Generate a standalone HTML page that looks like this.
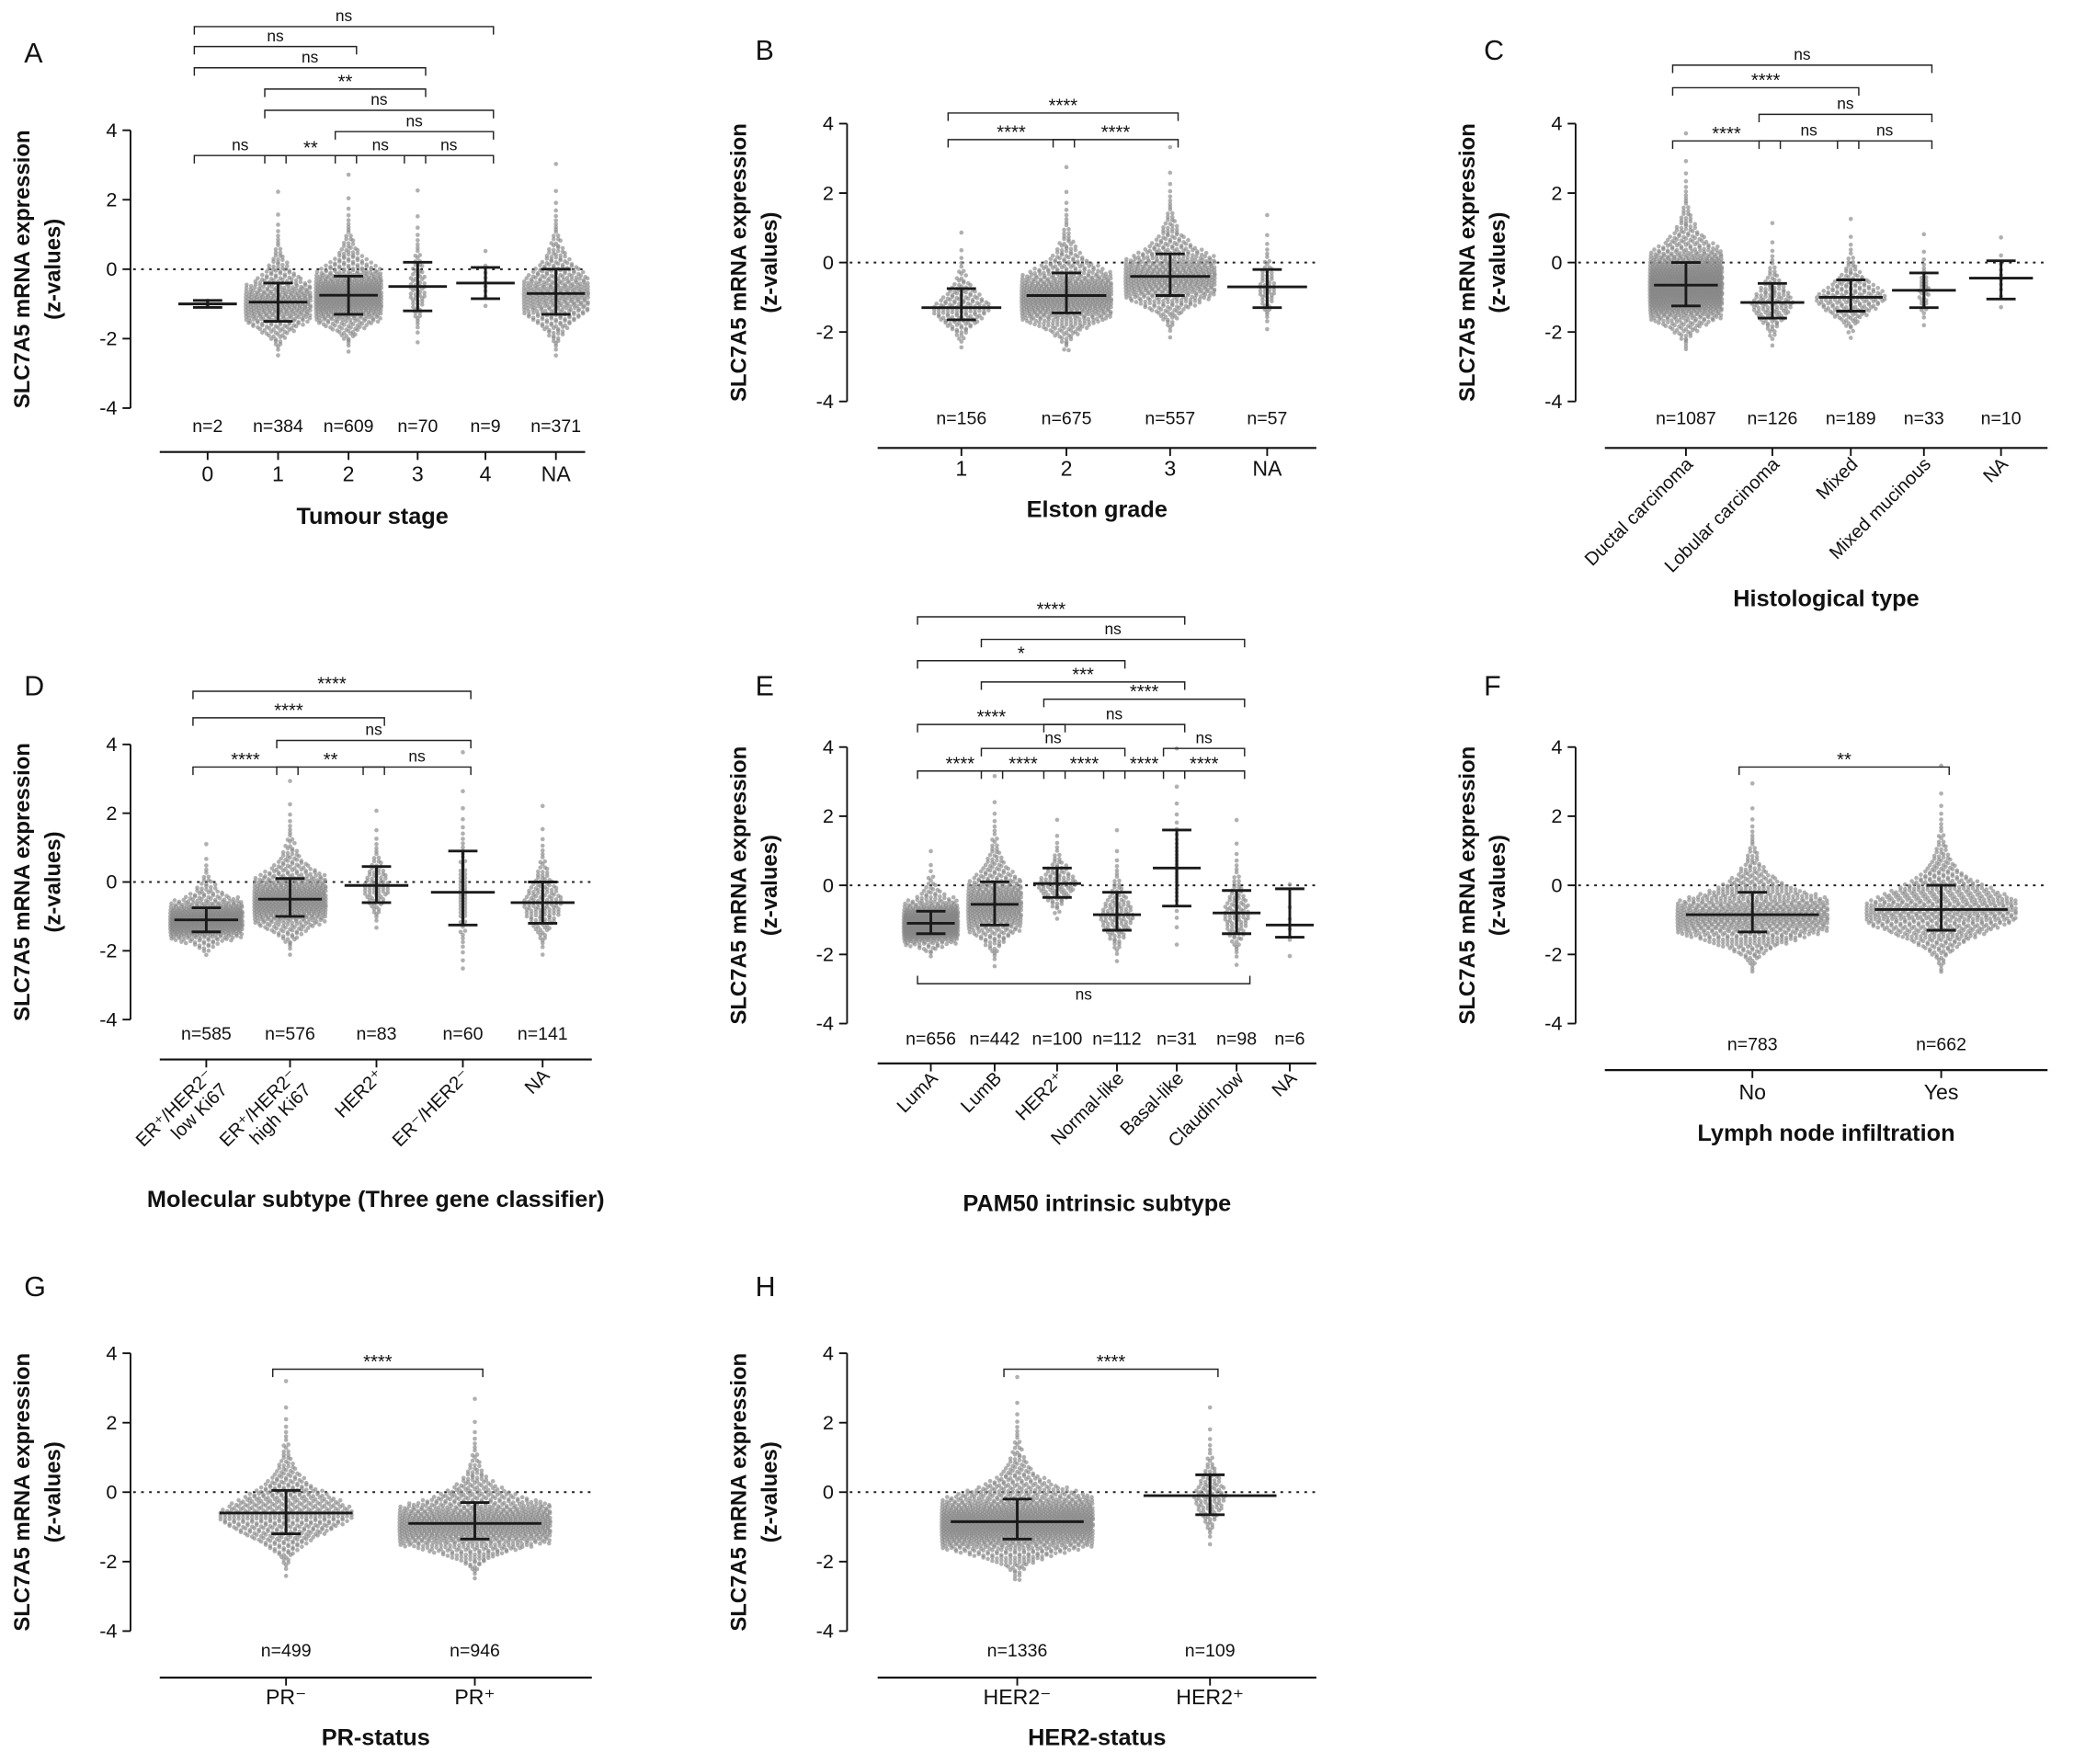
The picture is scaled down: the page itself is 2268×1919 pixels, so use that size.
<!DOCTYPE html>
<html><head><meta charset="utf-8"><style>
html,body{margin:0;padding:0;background:#fff}
svg{display:block}
text{font-family:"Liberation Sans",Arial,sans-serif;fill:#111}
</style></head><body>
<svg id="fig" width="2268" height="1919" viewBox="0 0 1568 1327" xmlns="http://www.w3.org/2000/svg"></svg>
<script>
// ---- data ----
const A_cats=["0","1","2","3","4","NA"];
const A_n=[2,384,609,70,9,371];
const A_med=[-1,-0.95,-0.75,-0.5,-0.4,-0.7];
const A_lo=[-1.1,-1.5,-1.3,-1.2,-0.85,-1.3];
const A_hi=[-0.9,-0.4,-0.2,0.2,0.05,0.0];
const A_sig=[[0,4,"ns"],[0,2,"ns"],[0,3,"ns"],[1,3,"**"],[1,4,"ns"],[2,4,"ns"],[0,1,"ns"],[1,2,"**"],[2,3,"ns"],[3,4,"ns"]];

const B_cats=["1","2","3","NA"];
const B_n=[156,675,557,57];
const B_med=[-1.3,-0.95,-0.4,-0.7];
const B_lo=[-1.65,-1.45,-0.95,-1.3];
const B_hi=[-0.75,-0.3,0.25,-0.2];
const B_sig=[[0,2,"****"],[0,1,"****"],[1,2,"****"]];

const C_cats=["Ductal carcinoma","Lobular carcinoma","Mixed","Mixed mucinous","NA"];
const C_n=[1087,126,189,33,10];
const C_med=[-0.65,-1.15,-1.0,-0.8,-0.45];
const C_lo=[-1.25,-1.6,-1.4,-1.3,-1.05];
const C_hi=[0.0,-0.6,-0.5,-0.3,0.05];
const C_sig=[[0,3,"ns"],[0,2,"****"],[1,3,"ns"],[0,1,"****"],[1,2,"ns"],[2,3,"ns"]];

const D_cats=[["ER\u207A/HER2\u207B","low Ki67"],["ER\u207A/HER2\u207B","high Ki67"],["HER2\u207A"],["ER\u207B/HER2\u207B"],["NA"]];
const D_n=[585,576,83,60,141];
const D_med=[-1.1,-0.5,-0.1,-0.3,-0.6];
const D_lo=[-1.45,-1.0,-0.6,-1.25,-1.2];
const D_hi=[-0.75,0.1,0.45,0.9,0.0];
const D_sig=[[0,3,"****"],[0,2,"****"],[1,3,"ns"],[0,1,"****"],[1,2,"**"],[2,3,"ns"]];

const E_cats=["LumA","LumB","HER2\u207A","Normal-like","Basal-like","Claudin-low","NA"];
const E_n=[656,442,100,112,31,98,6];
const E_med=[-1.1,-0.55,0.05,-0.85,0.5,-0.8,-1.15];
const E_lo=[-1.4,-1.15,-0.35,-1.3,-0.6,-1.4,-1.5];
const E_hi=[-0.75,0.1,0.5,-0.2,1.6,-0.15,-0.1];
const E_sig=[[0,4,"****"],[1,5,"ns"],[0,3,"*"],[1,4,"***"],[2,5,"****"],[0,2,"****"],[2,4,"ns"],[1,3,"ns"],[4,5,"ns"],[0,1,"****"],[1,2,"****"],[2,3,"****"],[3,4,"****"],[4,5,"****"]];

const F_cats=["No","Yes"];
const F_n=[783,662];
const F_med=[-0.85,-0.7];
const F_lo=[-1.35,-1.3];
const F_hi=[-0.2,0.0];
const F_sig=[[0,1,"**"]];

const G_cats=["PR\u207B","PR\u207A"];
const G_n=[499,946];
const G_med=[-0.6,-0.9];
const G_lo=[-1.2,-1.35];
const G_hi=[0.05,-0.3];
const G_sig=[[0,1,"****"]];

const H_cats=["HER2\u207B","HER2\u207A"];
const H_n=[1336,109];
const H_med=[-0.85,-0.1];
const H_lo=[-1.35,-0.65];
const H_hi=[-0.2,0.5];
const H_sig=[[0,1,"****"]];

const yTicks=[4,2,0,-2,-4];
const valueFloor=-2.5;

// ---- layout ----
const panels=[
 {id:"a",letter:"A",lx:18,ly:47,ax:98,yt:98,yb:307,bl:340,x0:120,x1:440,xs:[156,209,262,314,365,418],ny:325,ty:362,title:"Tumour stage",tty:394,rot:false,hw:22,
  cats:A_cats,n:A_n,med:A_med,lo:A_lo,hi:A_hi,sig:A_sig,sy:[20,35,51,67,83,99,117,117,117,117]},
 {id:"b",letter:"B",lx:568,ly:45,ax:637,yt:93,yb:302,bl:337,x0:660,x1:990,xs:[723,802,880,953],ny:319,ty:358,title:"Elston grade",tty:389,rot:false,hw:30,
  cats:B_cats,n:B_n,med:B_med,lo:B_lo,hi:B_hi,sig:B_sig,sy:[85,105,105]},
 {id:"c",letter:"C",lx:1116,ly:45,ax:1185,yt:93,yb:302,bl:337,x0:1207,x1:1540,xs:[1268,1333,1392,1447,1505],ny:319,ty:350,title:"Histological type",tty:456,rot:true,hw:24,
  cats:C_cats,n:C_n,med:C_med,lo:C_lo,hi:C_hi,sig:C_sig,sy:[49,66,86,106,106,106]},
 {id:"d",letter:"D",lx:18,ly:523,ax:98,yt:560,yb:767,bl:797,x0:120,x1:445,xs:[155,218,283,348,408],ny:782,ty:810,title:"Molecular subtype (Three gene classifier)",tty:908,rot:true,hw:24,
  cats:D_cats,n:D_n,med:D_med,lo:D_lo,hi:D_hi,sig:D_sig,sy:[520,540,557,577,577,577]},
 {id:"e",letter:"E",lx:568,ly:523,ax:637,yt:562,yb:770,bl:800,x0:660,x1:990,xs:[700,748,795,840,885,930,970],ny:786,ty:812,title:"PAM50 intrinsic subtype",tty:911,rot:true,hw:18,
  cats:E_cats,n:E_n,med:E_med,lo:E_lo,hi:E_hi,sig:E_sig,sy:[464,481,497,513,526,545,545,563,563,580,580,580,580,580]},
 {id:"f",letter:"F",lx:1116,ly:523,ax:1185,yt:562,yb:770,bl:805,x0:1207,x1:1540,xs:[1318,1460],ny:790,ty:827,title:"Lymph node infiltration",tty:858,rot:false,hw:50,
  cats:F_cats,n:F_n,med:F_med,lo:F_lo,hi:F_hi,sig:F_sig,sy:[577]},
 {id:"g",letter:"G",lx:18,ly:975,ax:98,yt:1018,yb:1227,bl:1262,x0:120,x1:445,xs:[215,357],ny:1246,ty:1282,title:"PR-status",tty:1313,rot:false,hw:50,
  cats:G_cats,n:G_n,med:G_med,lo:G_lo,hi:G_hi,sig:G_sig,sy:[1030]},
 {id:"h",letter:"H",lx:568,ly:975,ax:637,yt:1018,yb:1227,bl:1262,x0:660,x1:990,xs:[765,910],ny:1246,ty:1282,title:"HER2-status",tty:1313,rot:false,hw:50,
  cats:H_cats,n:H_n,med:H_med,lo:H_lo,hi:H_hi,sig:H_sig,sy:[1030]}
];
const NS="http://www.w3.org/2000/svg";
const svg=document.getElementById("fig");
function mk(tag,parent,attrs){const e=document.createElementNS(NS,tag);for(const k in attrs)e.setAttribute(k,attrs[k]);parent.appendChild(e);return e;}
function invnorm(p){
 const a=[-39.69683028665376,220.9460984245205,-275.9285104469687,138.357751867269,-30.66479806614716,2.506628277459239];
 const b=[-54.47609879822406,161.5858368580409,-155.6989798598866,66.80131188771972,-13.28068155288572];
 const c=[-0.007784894002430293,-0.3223964580411365,-2.400758277161838,-2.549732539343734,4.374664141464968,2.938163982698783];
 const d=[0.007784695709041462,0.3224671290700398,2.445134137142996,3.754408661907416];
 let q,r;
 if(p<0.02425){q=Math.sqrt(-2*Math.log(p));return (((((c[0]*q+c[1])*q+c[2])*q+c[3])*q+c[4])*q+c[5])/((((d[0]*q+d[1])*q+d[2])*q+d[3])*q+1);}
 if(p>1-0.02425){q=Math.sqrt(-2*Math.log(1-p));return -(((((c[0]*q+c[1])*q+c[2])*q+c[3])*q+c[4])*q+c[5])/((((d[0]*q+d[1])*q+d[2])*q+d[3])*q+1);}
 q=p-0.5;r=q*q;return (((((a[0]*r+a[1])*r+a[2])*r+a[3])*r+a[4])*r+a[5])*q/(((((b[0]*r+b[1])*r+b[2])*r+b[3])*r+b[4])*r+1);
}
panels.forEach(P=>{
 const g=mk("g",svg,{});
 
 
 const y0=(P.yt+P.yb)/2, unit=(P.yb-P.yt)/8;
 const yS=v=>y0-v*unit;
 const xS=i=>P.xs[i];
 const L=mk("text",g,{x:P.lx,y:P.ly,"font-size":21});
 L.textContent=P.letter;
 
 
 const ya=mk("line",g,{x1:P.ax,x2:P.ax,y1:P.yt,y2:P.yb,stroke:"#111","stroke-width":1.3});
 
 
 yTicks.forEach(t=>{
  mk("line",g,{x1:P.ax-6,x2:P.ax,y1:yS(t),y2:yS(t),stroke:"#111","stroke-width":1.3});
  const tl=mk("text",g,{x:P.ax-10,y:yS(t)+5,"font-size":15,"text-anchor":"end"});
  tl.textContent=String(t);
  
  
 });
 const yl=mk("text",g,{x:0,y:0,"font-size":16.5,"font-weight":"bold","text-anchor":"middle",transform:`translate(${P.ax-76},${y0}) rotate(-90)`});
 yl.textContent="SLC7A5 mRNA expression";
 
 
 const yl2=mk("text",g,{x:0,y:0,"font-size":16.5,"font-weight":"bold","text-anchor":"middle",transform:`translate(${P.ax-53},${y0}) rotate(-90)`});
 yl2.textContent="(z-values)";
 
 
 const zl=mk("line",g,{x1:P.ax+2,x2:P.x1,y1:yS(0),y2:yS(0),stroke:"#222","stroke-width":1.4,"stroke-dasharray":"2,4"});
 
 
 const xa=mk("line",g,{x1:P.x0,x2:P.x1,y1:P.bl,y2:P.bl,stroke:"#111","stroke-width":1.5});
 
 
 const xt=mk("text",g,{x:(P.x0+P.x1)/2,y:P.tty,"font-size":17.5,"font-weight":"bold","text-anchor":"middle"});
 xt.textContent=P.title;
 
 
 P.cats.forEach((cat,i)=>{
  const cx=xS(i);
  const gg=mk("g",g,{});
  
  
  const n=P.n[i], med=P.med[i], sd=(P.hi[i]-P.lo[i])/2;
  const bins={};
  for(let k=0;k<n;k++){
   const z=invnorm((k+0.5)/n);
   let v;
   if(z<0){v=med+sd*z*0.95; if(v<valueFloor)v=valueFloor+(v-valueFloor)*0.15;}
   else v=med+sd*z*(1+0.1*z*z);
   const py=yS(v);
   const b=Math.round(py/2.4);
   (bins[b]=bins[b]||[]).push(py);
  }
  const maxW=P.hw*1.15;
  for(const b in bins){
   const arr=bins[b], c=arr.length;
   const s=Math.min(3.4,2*maxW/Math.max(c,1));
   arr.forEach((py,k)=>{
    const off=(k-(c-1)/2)*s;
    const d=mk("circle",gg,{cx:cx+off,cy:py+((k%2)?0.6:-0.6),r:1.6,fill:"#858585","fill-opacity":0.65});
    
    
   });
  }
  const eb=mk("g",gg,{stroke:"#1a1a1a","stroke-width":2});
  
  
  mk("line",eb,{x1:cx,x2:cx,y1:yS(P.lo[i]),y2:yS(P.hi[i])});
  mk("line",eb,{x1:cx-11,x2:cx+11,y1:yS(P.lo[i]),y2:yS(P.lo[i])});
  mk("line",eb,{x1:cx-11,x2:cx+11,y1:yS(P.hi[i]),y2:yS(P.hi[i])});
  mk("line",eb,{x1:cx-P.hw,x2:cx+P.hw,y1:yS(med),y2:yS(med)});
  const nl=mk("text",g,{x:cx,y:P.ny,"font-size":13.5,"text-anchor":"middle"});
  nl.textContent="n="+n;
  
  
  mk("line",g,{x1:cx,x2:cx,y1:P.bl,y2:P.bl+6,stroke:"#111","stroke-width":1.3});
  const lines=Array.isArray(cat)?cat:[cat];
  if(P.rot){
   const tl=mk("text",g,{x:0,y:0,"font-size":14,"text-anchor":"end",transform:`translate(${cx+6},${P.ty}) rotate(-45)`});
   lines.forEach((ln,j)=>{const ts=mk("tspan",tl,{x:0,dy:j?15:0});ts.textContent=ln;});
   
   
  } else {
   const tl=mk("text",g,{x:cx,y:P.ty,"font-size":16,"text-anchor":"middle"});
   tl.textContent=lines[0];
   
   
  }
 });
 P.sig.forEach((s,k)=>{
  const yb=P.sy[k], xa=xS(s[0])-10, xb=xS(s[1])+6;
  const br=mk("path",g,{d:`M${xa},${yb+6}V${yb}H${xb}V${yb+6}`,fill:"none",stroke:"#222","stroke-width":1});
  
  
  const st=mk("text",g,{x:(xa+xb)/2,y:yb-(s[2]==="ns"?4:1),"font-size":s[2]==="ns"?12:14,"text-anchor":"middle"});
  st.textContent=s[2];
  
  
 });
 if(P.id==="e"){
  const yb=740, xa=xS(0)-10, xb=xS(5)+10;
  const br=mk("path",g,{d:`M${xa},${yb-6}V${yb}H${xb}V${yb-6}`,fill:"none",stroke:"#222","stroke-width":1});
  
  
  const st=mk("text",g,{x:(xa+xb)/2,y:yb+12,"font-size":12,"text-anchor":"middle"});
  st.textContent="ns";
  
  
 }
});
</script>
</body></html>
